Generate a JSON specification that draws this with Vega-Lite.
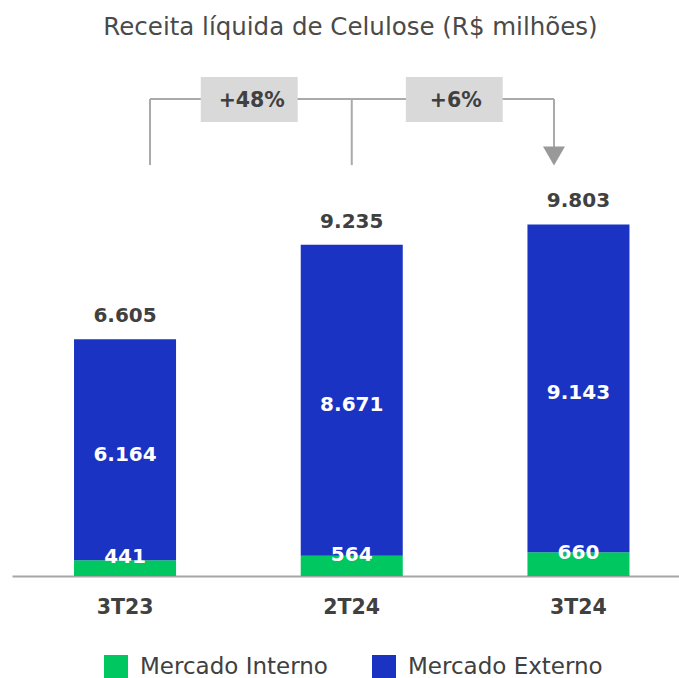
{
  "$schema": "https://vega.github.io/schema/vega-lite/v6.json",
  "width": 667,
  "height": 502,
  "padding": {"left": 12, "top": 15, "right": 0, "bottom": 0},
  "background": "white",
  "title": {
    "text": "Receita líquida de Celulose (R$ milhões)",
    "fontSize": 24.5,
    "font": "DejaVu Sans",
    "fontWeight": "normal",
    "color": "#4a4a4a",
    "offset": 33.5,
    "anchor": "middle",
    "dx": 5
  },
  "datasets": {
    "receita": [
      {"trimestre": "3T23", "mercado": "Mercado Interno", "valor": 441},
      {"trimestre": "3T23", "mercado": "Mercado Externo", "valor": 6164},
      {"trimestre": "2T24", "mercado": "Mercado Interno", "valor": 564},
      {"trimestre": "2T24", "mercado": "Mercado Externo", "valor": 8671},
      {"trimestre": "3T24", "mercado": "Mercado Interno", "valor": 660},
      {"trimestre": "3T24", "mercado": "Mercado Externo", "valor": 9143}
    ]
  },
  "config": {
    "view": {"stroke": null},
    "locale": {"number": {"decimal": ",", "thousands": ".", "grouping": [3], "currency": ["R$ ", ""]}},
    "text": {"font": "DejaVu Sans"}
  },
  "layer": [
    {
      "data": {"name": "receita"},
      "mark": {"type": "bar"},
      "encoding": {
        "x": {
          "field": "trimestre",
          "type": "nominal",
          "scale": {"domain": ["3T23", "2T24", "3T24"], "paddingInner": 0.55, "paddingOuter": 0.246, "align": 0.556},
          "axis": {
            "title": null,
            "labelAngle": 0,
            "labelFontSize": 20.5,
            "labelFontWeight": "bold",
            "labelFont": "DejaVu Sans",
            "labelColor": "#404040",
            "ticks": false,
            "domainColor": "#a6a6a6",
            "domainWidth": 2,
            "labelPadding": 21,
            "grid": false
          }
        },
        "y": {
          "field": "valor",
          "type": "quantitative",
          "aggregate": "sum",
          "stack": "zero",
          "scale": {"domain": [0, 14000], "nice": false},
          "axis": null
        },
        "color": {
          "field": "mercado",
          "type": "nominal",
          "scale": {"domain": ["Mercado Interno", "Mercado Externo"], "range": ["#00c75f", "#1b33c2"]},
          "legend": {
            "orient": "none",
            "legendX": 92,
            "legendY": 581,
            "direction": "horizontal",
            "title": null,
            "symbolType": "square",
            "symbolSize": 576,
            "symbolStrokeWidth": 0,
            "symbolOpacity": 1,
            "labelFontSize": 23,
            "labelFont": "DejaVu Sans",
            "labelColor": "#404040",
            "labelOffset": 12,
            "columnPadding": 44,
            "labelLimit": 300
          }
        },
        "order": {"field": "mercado", "sort": "descending"}
      }
    },
    {
      "data": {"name": "receita"},
      "mark": {"type": "text", "fontSize": 20, "fontWeight": "bold", "color": "white", "baseline": "middle", "dy": 5},
      "encoding": {
        "x": {"field": "trimestre", "type": "nominal"},
        "y": {"field": "valor", "type": "quantitative", "aggregate": "sum", "stack": "zero", "bandPosition": 0.5},
        "detail": {"field": "mercado"},
        "order": {"field": "mercado", "sort": "descending"},
        "text": {
          "condition": {"test": "datum.mercado == 'Mercado Externo'", "field": "valor", "aggregate": "sum", "type": "quantitative", "format": ",.0f"},
          "value": ""
        }
      }
    },
    {
      "data": {"name": "receita"},
      "mark": {"type": "text", "fontSize": 20, "fontWeight": "bold", "color": "white", "baseline": "middle", "dy": -11},
      "encoding": {
        "x": {"field": "trimestre", "type": "nominal"},
        "y": {"field": "valor", "type": "quantitative", "aggregate": "sum", "stack": "zero", "bandPosition": 0.5},
        "detail": {"field": "mercado"},
        "order": {"field": "mercado", "sort": "descending"},
        "text": {
          "condition": {"test": "datum.mercado == 'Mercado Interno'", "field": "valor", "aggregate": "sum", "type": "quantitative", "format": ",.0f"},
          "value": ""
        }
      }
    },
    {
      "data": {"name": "receita"},
      "mark": {"type": "text", "fontSize": 20, "fontWeight": "bold", "color": "#404040", "baseline": "middle", "dy": -23},
      "encoding": {
        "x": {"field": "trimestre", "type": "nominal"},
        "y": {"field": "valor", "type": "quantitative", "aggregate": "sum"},
        "text": {"field": "valor", "type": "quantitative", "aggregate": "sum", "format": ",.0f"}
      }
    },
    {
      "data": {"values": [{}]},
      "mark": {"type": "rule", "color": "#aaaaaa", "strokeWidth": 2},
      "encoding": {
        "x": {"datum": "3T23", "bandPosition": 0.745},
        "x2": {"datum": "3T24", "bandPosition": 0.26},
        "y": {"datum": 13303, "type": "quantitative"}
      }
    },
    {
      "data": {"values": [{}]},
      "mark": {"type": "rule", "color": "#aaaaaa", "strokeWidth": 2},
      "encoding": {
        "x": {"datum": "3T23", "bandPosition": 0.745},
        "y": {"datum": 13303, "type": "quantitative"},
        "y2": {"datum": 11460}
      }
    },
    {
      "data": {"values": [{}]},
      "mark": {"type": "rule", "color": "#aaaaaa", "strokeWidth": 2},
      "encoding": {
        "x": {"datum": "2T24", "bandPosition": 0.5},
        "y": {"datum": 13303, "type": "quantitative"},
        "y2": {"datum": 11460}
      }
    },
    {
      "data": {"values": [{}]},
      "mark": {"type": "rule", "color": "#aaaaaa", "strokeWidth": 2},
      "encoding": {
        "x": {"datum": "3T24", "bandPosition": 0.26},
        "y": {"datum": 13303, "type": "quantitative"},
        "y2": {"datum": 11964}
      }
    },
    {
      "data": {"values": [{}]},
      "mark": {"type": "point", "shape": "triangle-down", "size": 484, "filled": true, "color": "#999999", "opacity": 1, "strokeWidth": 0},
      "encoding": {
        "x": {"datum": "3T24", "bandPosition": 0.26},
        "y": {"datum": 11713, "type": "quantitative"}
      }
    },
    {
      "data": {"values": [{}]},
      "mark": {"type": "rect", "color": "#d9d9d9"},
      "encoding": {
        "x": {"datum": "2T24", "bandPosition": -0.98},
        "x2": {"datum": "2T24", "bandPosition": -0.03},
        "y": {"datum": 13916, "type": "quantitative"},
        "y2": {"datum": 12661}
      }
    },
    {
      "data": {"values": [{}]},
      "mark": {"type": "rect", "color": "#d9d9d9"},
      "encoding": {
        "x": {"datum": "2T24", "bandPosition": 1.03},
        "x2": {"datum": "2T24", "bandPosition": 1.98},
        "y": {"datum": 13916, "type": "quantitative"},
        "y2": {"datum": 12661}
      }
    },
    {
      "data": {"values": [{"variacao": "+48%"}]},
      "mark": {"type": "text", "fontSize": 20.5, "fontWeight": "bold", "color": "#404040", "baseline": "middle"},
      "encoding": {
        "x": {"datum": "2T24", "bandPosition": -0.48},
        "y": {"datum": 13260, "type": "quantitative"},
        "text": {"field": "variacao"}
      }
    },
    {
      "data": {"values": [{"variacao": "+6%"}]},
      "mark": {"type": "text", "fontSize": 20.5, "fontWeight": "bold", "color": "#404040", "baseline": "middle"},
      "encoding": {
        "x": {"datum": "2T24", "bandPosition": 1.52},
        "y": {"datum": 13260, "type": "quantitative"},
        "text": {"field": "variacao"}
      }
    }
  ]
}
